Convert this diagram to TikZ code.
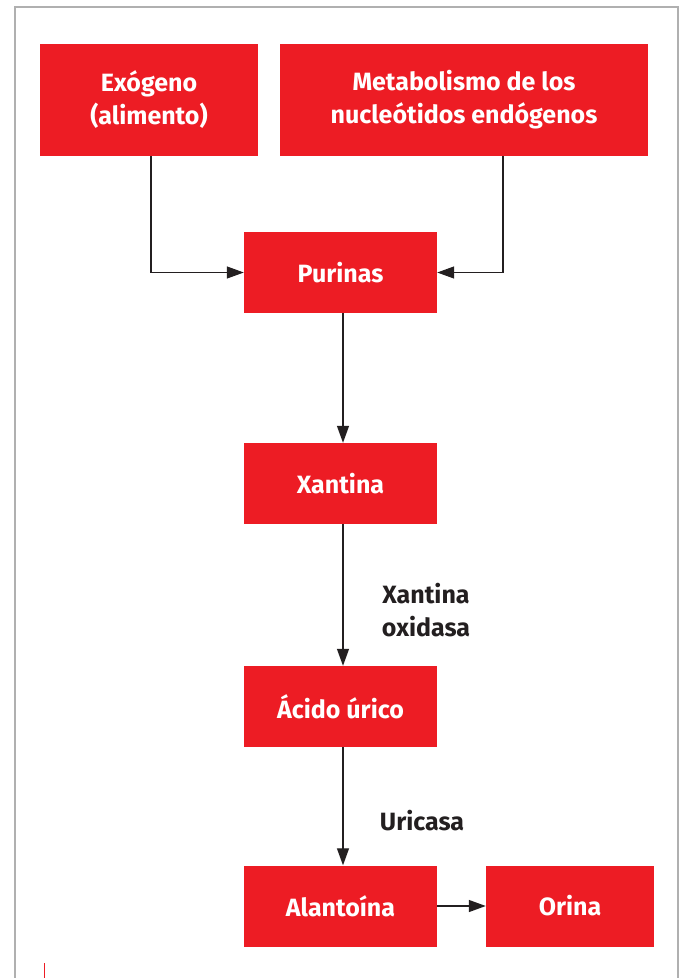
\documentclass[tikz,border=0pt]{standalone}
\usepackage{fontspec}
\setmainfont{Fira Sans}
\usepackage{tikz}
\usetikzlibrary{arrows.meta, positioning}
\definecolor{boxred}{RGB}{237, 28, 36}
\definecolor{inkdark}{RGB}{35, 31, 32}
\definecolor{framegray}{RGB}{176, 176, 176}

\begin{document}
\begin{tikzpicture}[
  x=1pt, y=-1pt,
  box/.style={fill=boxred, text=white, minimum width=193pt,
    minimum height=81pt, align=center, inner sep=0pt,
    font=\fontsize{25}{33}\selectfont\bfseries},
  enz/.style={text=inkdark, align=center,
    font=\fontsize{25}{33}\selectfont\bfseries},
  arr/.style={-{Triangle[length=17pt, width=12pt]}, line width=1.3pt, draw=inkdark}
]
\useasboundingbox (0,0) rectangle (683,978);
\draw[framegray, line width=1.2pt] (15,978) -- (15,7) -- (678,7) -- (678,978);
\draw[boxred, line width=1pt] (44,963) -- (44,978);

\node[box, minimum width=218pt, minimum height=112pt] (exo) at (149,100) {Exógeno\\(alimento)};
\node[box, minimum width=368pt, minimum height=112pt] (meta) at (464,100) {Metabolismo de los\\nucleótidos endógenos};
\node[box] (pur) at (340.5,272.5) {Purinas};
\node[box] (xan) at (340.5,483.5) {Xantina};
\node[box] (acido) at (340.5,706.5) {Ácido úrico};
\node[box] (alan) at (340.5,906) {Alantoína};
\node[box, minimum width=168pt] (orina) at (570,906) {Orina};

\node[enz] (xo) at (426,610) {Xantina\\oxidasa};
\node[enz] (uri) at (422,821) {Uricasa};

\draw[arr] ([xshift=2pt]exo.south) |- (pur.west);
\draw[arr] ([xshift=39pt]meta.south) |- (pur.east);
\draw[arr] ([xshift=2.5pt]pur.south) -- ([xshift=2.5pt]xan.north);
\draw[arr] ([xshift=2.5pt]xan.south) -- ([xshift=2.5pt]acido.north);
\draw[arr] ([xshift=2.5pt]acido.south) -- ([xshift=2.5pt]alan.north);
\draw[arr] (alan) -- (orina);
\end{tikzpicture}
\end{document}
